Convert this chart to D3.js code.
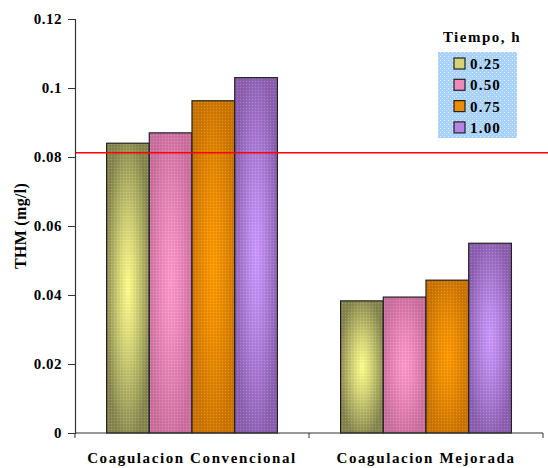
<!DOCTYPE html>
<html><head><meta charset="utf-8">
<script src="https://cdn.jsdelivr.net/npm/d3@7"></script>
<style>body{margin:0;background:#fff}svg{display:block}text{font-family:"Liberation Serif","Times New Roman",serif;font-weight:bold;fill:#000}</style>
</head><body><svg id="c" width="548" height="468"></svg>
<script>
const categories = ["Coagulacion Convencional", "Coagulacion Mejorada"];
const seriesNames = ["0.25", "0.50", "0.75", "1.00"];
const values = [
  [0.084, 0.087, 0.0963, 0.103],
  [0.0383, 0.0394, 0.0443, 0.055]
];
const yTicks = [0, 0.02, 0.04, 0.06, 0.08, 0.1, 0.12];
const yTickLabels = ["0", "0.02", "0.04", "0.06", "0.08", "0.1", "0.12"];
const limitValue = 0.0812;
const legendTitle = "Tiempo, h";
const yLabel = "THM (mg/l)";
const lightColors = ["#ffff8c", "#ff99cc", "#ff9a00", "#cc99ff"];
const darkColors = ["#85854e", "#cc6f9f", "#cc7400", "#8c5fb0"];

(function () {
const svg = d3.select("#c");
const pL = 75, pR = 543, pT = 19, pB = 433;
const y = d3.scaleLinear().domain([0, 0.12]).range([pB, pT]);
const x0 = d3.scaleBand().domain(categories).range([pL, pR]).padding(0);
const bw = x0.bandwidth();
const x1 = d3.scaleBand().domain(seriesNames).range([bw * 0.135, bw * 0.865]).padding(0);

const defs = svg.append("defs");
seriesNames.forEach((s, i) => {
  const g = defs.append("radialGradient").attr("id", "g" + i)
    .attr("cx", "50%").attr("cy", "50%").attr("r", "55%");
  g.append("stop").attr("offset", "0%").attr("stop-color", lightColors[i]);
  g.append("stop").attr("offset", "35%").attr("stop-color", d3.interpolateRgb(lightColors[i], darkColors[i])(0.3));
  g.append("stop").attr("offset", "100%").attr("stop-color", darkColors[i]);
});
const pat = defs.append("pattern").attr("id", "dots").attr("width", 3).attr("height", 3).attr("patternUnits", "userSpaceOnUse");
pat.append("rect").attr("width", 1).attr("height", 1).attr("fill", "#fff").attr("opacity", 0.18);
pat.append("rect").attr("x", 1.5).attr("y", 1.5).attr("width", 1).attr("height", 1).attr("fill", "#000").attr("opacity", 0.12);
const lpat = defs.append("pattern").attr("id", "ldots").attr("width", 4).attr("height", 4).attr("patternUnits", "userSpaceOnUse");
lpat.append("rect").attr("width", 4).attr("height", 4).attr("fill", "#a9d2fb");
lpat.append("rect").attr("width", 1).attr("height", 1).attr("fill", "#e4f1ff");
lpat.append("rect").attr("x", 2).attr("y", 2).attr("width", 1).attr("height", 1).attr("fill", "#cfe5fc");

// bars
const groups = svg.append("g").selectAll("g").data(categories).join("g")
  .attr("transform", d => `translate(${x0(d)},0)`);
groups.each(function (cat, ci) {
  const g = d3.select(this);
  seriesNames.forEach((s, si) => {
    const v = values[ci][si];
    g.append("rect").attr("x", x1(s)).attr("y", y(v)).attr("width", x1.bandwidth()).attr("height", y(0) - y(v))
      .attr("fill", `url(#g${si})`);
    g.append("rect").attr("x", x1(s)).attr("y", y(v)).attr("width", x1.bandwidth()).attr("height", y(0) - y(v))
      .attr("fill", "url(#dots)").attr("stroke", "#222").attr("stroke-width", 1.2);
  });
});

// limit line
svg.append("line").attr("x1", pL).attr("x2", 548).attr("y1", y(limitValue)).attr("y2", y(limitValue))
  .attr("stroke", "#ff0000").attr("stroke-width", 1.5);

// y axis
const yAxis = d3.axisLeft(y).tickValues(yTicks).tickFormat((d, i) => yTickLabels[i]).tickSize(7).tickPadding(6);
const ya = svg.append("g").attr("transform", `translate(${pL},0)`).call(yAxis);
ya.select(".domain").attr("stroke", "#333").attr("stroke-width", 1.2);
ya.selectAll(".tick line").attr("stroke", "#333");
ya.selectAll("text").attr("font-size", 15).attr("font-family", "Liberation Serif").attr("font-weight", "bold").attr("letter-spacing", 0.5);

// x axis
const xa = svg.append("g").attr("transform", `translate(0,${pB})`);
xa.append("line").attr("x1", pL).attr("x2", pR).attr("stroke", "#333").attr("stroke-width", 1.2);
const xTickPos = [pL].concat(categories.map(c => x0(c) + bw));
xa.selectAll("line.t").data(xTickPos).join("line").attr("class", "t")
  .attr("x1", d => d).attr("x2", d => d).attr("y1", 0).attr("y2", 5).attr("stroke", "#333");
xa.selectAll("text").data(categories).join("text")
  .attr("x", d => x0(d) + bw / 2).attr("y", 30).attr("text-anchor", "middle")
  .attr("font-size", 15).attr("letter-spacing", 1.6).text(d => d);

// y label
svg.append("text").attr("transform", `translate(26,${(pT + pB) / 2}) rotate(-90)`)
  .attr("text-anchor", "middle").attr("font-size", 16).attr("letter-spacing", 0.3).text(yLabel);

// legend
svg.append("text").attr("x", 482).attr("y", 42).attr("text-anchor", "middle").attr("font-size", 15).attr("letter-spacing", 1.5).text(legendTitle);
svg.append("rect").attr("x", 438).attr("y", 52).attr("width", 79).attr("height", 86).attr("fill", "url(#ldots)");
const leg = svg.append("g").selectAll("g").data(seriesNames).join("g")
  .attr("transform", (d, i) => `translate(454,${63 + i * 21.3})`);
leg.append("rect").attr("x", 0).attr("y", -5).attr("width", 11).attr("height", 11)
  .attr("fill", (d, i) => d3.interpolateRgb(lightColors[i], darkColors[i])(0.35)).attr("stroke", "#222").attr("stroke-width", 1.2);
leg.append("text").attr("x", 16).attr("y", 6).attr("font-size", 15).attr("letter-spacing", 1.2).text(d => d);
})();
</script></body></html>
